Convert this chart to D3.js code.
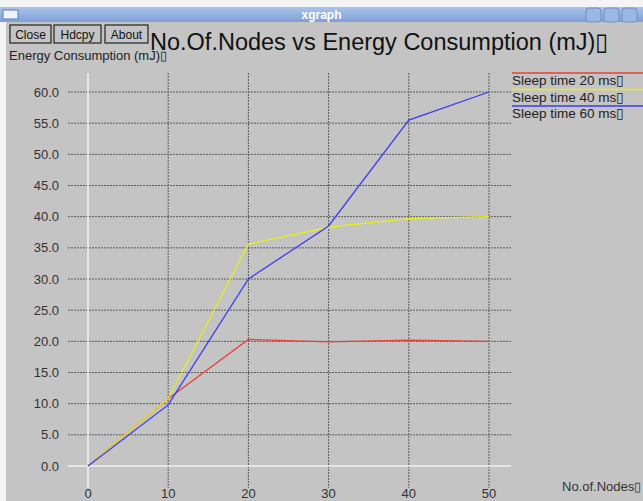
<!DOCTYPE html>
<html>
<head>
<meta charset="utf-8">
<script src="https://cdn.jsdelivr.net/npm/d3@7"></script>
<style>
  body { margin: 0; background: #fff; }
  text { font-family: 'Liberation Sans', Arial, sans-serif; }
</style>
</head>
<body>
<div id="chart"></div>
<script>
const nodes = [0, 10, 20, 30, 40, 50]
const sleep20 = [0, 10.8, 20.3, 19.9, 20.2, 20.0]
const sleep40 = [0, 10.8, 35.6, 38.3, 39.7, 40.0]
const sleep60 = [0, 9.8, 30.0, 38.5, 55.5, 60.0]
const xTicks = [0, 10, 20, 30, 40, 50]
const yTicks = [0, 5, 10, 15, 20, 25, 30, 35, 40, 45, 50, 55, 60]
const seriesNames = ['Sleep time 20 ms', 'Sleep time 40 ms', 'Sleep time 60 ms']
const seriesColors = ['#e8413a', '#e6f018', '#3c3cf0']
const buttons = ['Close', 'Hdcpy', 'About']

const W = 643
const H = 501
const svg = d3.select('#chart').append('svg').attr('width', W).attr('height', H)

// window frame
svg.append('rect').attr('width', W).attr('height', H).attr('fill', '#f4f4f4')
svg.append('rect').attr('x', 6).attr('y', 22).attr('width', W - 6).attr('height', H - 22).attr('fill', '#c4c4c4')
const grad = svg.append('defs').append('linearGradient').attr('id', 'tb').attr('x1', 0).attr('y1', 0).attr('x2', 0).attr('y2', 1)
grad.append('stop').attr('offset', 0).attr('stop-color', '#a9c3ea')
grad.append('stop').attr('offset', 1).attr('stop-color', '#7f9fd6')
svg.append('rect').attr('x', 0).attr('y', 7).attr('width', W).attr('height', 15).attr('fill', 'url(#tb)')
svg.append('rect').attr('x', 3).attr('y', 10).attr('width', 15).attr('height', 9).attr('fill', '#eef2fa').attr('stroke', '#5f7fb8')
svg.append('text').attr('x', W / 2).attr('y', 19).attr('text-anchor', 'middle')
  .attr('fill', '#fff').attr('font-weight', 'bold').attr('font-size', 12).text('xgraph')
;[586, 604, 622].forEach((bx) => {
  svg.append('rect').attr('x', bx).attr('y', 8).attr('width', 15).attr('height', 14).attr('rx', 3)
    .attr('fill', '#9cb7e2').attr('stroke', '#6f8fc8')
})

// buttons
const bx = [10, 54, 105]
const bw = [41, 47, 43]
buttons.forEach((b, i) => {
  svg.append('rect').attr('x', bx[i]).attr('y', 25).attr('width', bw[i]).attr('height', 18)
    .attr('fill', '#c4c4c4').attr('stroke', '#222').attr('stroke-width', 1.2)
  svg.append('text').attr('x', bx[i] + bw[i] / 2).attr('y', 39).attr('text-anchor', 'middle')
    .attr('font-size', 12).attr('fill', '#111').text(b)
})

svg.append('text').attr('x', 150).attr('y', 50).attr('font-size', 23.5).attr('fill', '#111')
  .text('No.Of.Nodes vs Energy Consumption (mJ)\u25AF')
svg.append('text').attr('x', 9).attr('y', 60).attr('font-size', 13).attr('fill', '#222')
  .text('Energy Consumption (mJ)\u25AF')

// scales
const x = d3.scaleLinear().domain([0, 50]).range([88, 489])
const y = d3.scaleLinear().domain([0, 60]).range([466, 92])

const grid = svg.append('g')
grid.selectAll('line.h').data(yTicks.filter((d) => d !== 0)).enter().append('line')
  .attr('x1', 68).attr('x2', 511).attr('y1', (d) => y(d)).attr('y2', (d) => y(d))
  .attr('stroke', '#5a5a5a').attr('stroke-dasharray', '2,1')
grid.selectAll('line.v').data(xTicks.filter((d) => d !== 0)).enter().append('line')
  .attr('x1', (d) => x(d)).attr('x2', (d) => x(d)).attr('y1', 73).attr('y2', 488)
  .attr('stroke', '#5a5a5a').attr('stroke-dasharray', '2,1')
// zero axes in white
svg.append('line').attr('x1', 68).attr('x2', 511).attr('y1', y(0)).attr('y2', y(0)).attr('stroke', '#f2f2f2').attr('stroke-width', 1.5)
svg.append('line').attr('x1', x(0)).attr('x2', x(0)).attr('y1', 73).attr('y2', 488).attr('stroke', '#f2f2f2').attr('stroke-width', 1.5)

svg.append('g').selectAll('text').data(yTicks).enter().append('text')
  .attr('x', 59).attr('y', (d) => y(d) + 4.5).attr('text-anchor', 'end')
  .attr('font-size', 13).attr('fill', '#333').text((d) => d.toFixed(1))
svg.append('g').selectAll('text').data(xTicks).enter().append('text')
  .attr('x', (d) => x(d)).attr('y', 498).attr('text-anchor', 'middle')
  .attr('font-size', 13).attr('fill', '#333').text((d) => d)

svg.append('text').attr('x', 562).attr('y', 491).attr('font-size', 13).attr('fill', '#333').text('No.of.Nodes\u25AF')

// series
const allSeries = [sleep20, sleep40, sleep60]
const line = d3.line().x((d, i) => x(nodes[i])).y((d) => y(d))
allSeries.forEach((s, i) => {
  svg.append('path').datum(s).attr('d', line).attr('fill', 'none')
    .attr('stroke', seriesColors[i]).attr('stroke-width', 1.3)
})

// legend
seriesNames.forEach((n, i) => {
  const ly = 73 + i * 16.5
  svg.append('line').attr('x1', 512).attr('x2', 643).attr('y1', ly).attr('y2', ly)
    .attr('stroke', seriesColors[i]).attr('stroke-width', 1.3)
  svg.append('text').attr('x', 512).attr('y', ly + 12).attr('font-size', 13.5).attr('fill', '#222')
    .text(n + '\u25AF')
})
</script>
</body>
</html>
